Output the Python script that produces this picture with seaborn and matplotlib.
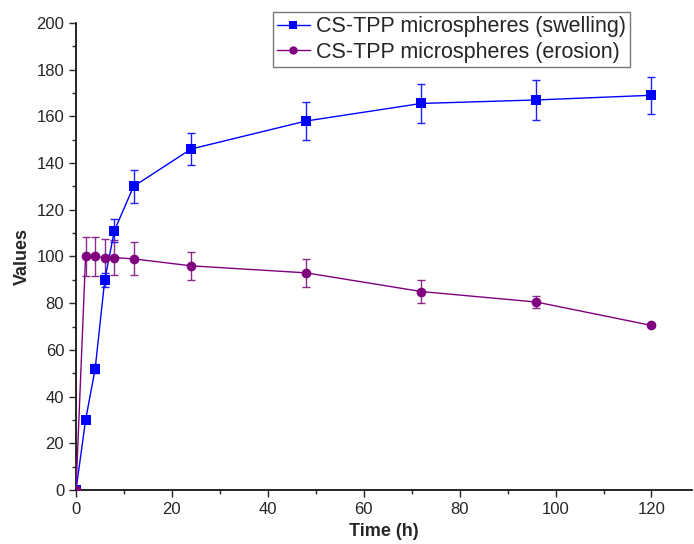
import matplotlib
matplotlib.use("Agg")
import matplotlib.pyplot as plt
import seaborn as sns
import pandas as pd
from matplotlib.ticker import MultipleLocator

sns.set_style("ticks")
plt.rcParams['font.family'] = ['Liberation Sans', 'DejaVu Sans']

time_h = [0, 2, 4, 6, 8, 12, 24, 48, 72, 96, 120]
swelling = [0, 30, 52, 90, 111, 130, 146, 158, 165.5, 167, 169]
swelling_err = [0, 0, 2, 3, 5, 7, 7, 8, 8.5, 8.5, 8]
erosion = [0, 100, 100, 99.5, 99.5, 99, 96, 93, 85, 80.5, 70.5]
erosion_err = [0, 8.5, 8.5, 8, 7.5, 7, 6, 6, 5, 2.5, 0]

label_s = "CS-TPP microspheres (swelling)"
label_e = "CS-TPP microspheres (erosion)"

df = pd.DataFrame({
    "Time (h)": time_h * 2,
    "Values": swelling + erosion,
    "Series": [label_s] * len(time_h) + [label_e] * len(time_h),
})

fig = plt.figure(figsize=(6.94, 5.44), dpi=100)
ax = fig.add_axes([0.1095, 0.099, 0.888, 0.859])

palette = {label_s: "#0000FF", label_e: "#800080"}
sns.lineplot(data=df, x="Time (h)", y="Values", hue="Series", style="Series",
             markers={label_s: "s", label_e: "o"}, dashes=False,
             palette=palette, markersize=7, markeredgewidth=0, linewidth=1.0,
             ax=ax, legend=True, zorder=3)

ax.errorbar(time_h, swelling, yerr=swelling_err, fmt="none", ecolor="#2020FF",
            elinewidth=1.0, capsize=3, capthick=1.0, zorder=2)
ax.errorbar(time_h, erosion, yerr=erosion_err, fmt="none", ecolor="#8a2a8a",
            elinewidth=1.0, capsize=3, capthick=1.0, zorder=2)

ax.set_xlim(0, 128.5)
ax.set_ylim(0, 200)
ax.xaxis.set_major_locator(MultipleLocator(20))
ax.xaxis.set_minor_locator(MultipleLocator(10))
ax.yaxis.set_major_locator(MultipleLocator(20))
ax.yaxis.set_minor_locator(MultipleLocator(10))
ax.tick_params(which="major", direction="out", length=5, width=1, labelsize=12)
ax.tick_params(which="minor", direction="out", length=3, width=1)
ax.spines["top"].set_visible(False)
ax.spines["right"].set_visible(False)
for s in ("left", "bottom"):
    ax.spines[s].set_linewidth(1.2)
    ax.spines[s].set_color("black")

ax.set_xlabel("Time (h)", fontsize=13, fontweight="bold")
ax.set_ylabel("Values", fontsize=13, fontweight="bold")

leg = ax.legend(loc="upper left", bbox_to_anchor=(273 / 694, 1 - 12 / 544),
                bbox_transform=fig.transFigure, fontsize=15.5, frameon=True,
                fancybox=False, handlelength=1.5, borderpad=0.2,
                labelspacing=0.2, handletextpad=0.3, borderaxespad=0)
leg.get_frame().set_edgecolor("#555555")
leg.get_frame().set_linewidth(1.0)
for h in leg.legend_handles:
    h.set_markersize(6)

fig.savefig("out.png", dpi=100)
